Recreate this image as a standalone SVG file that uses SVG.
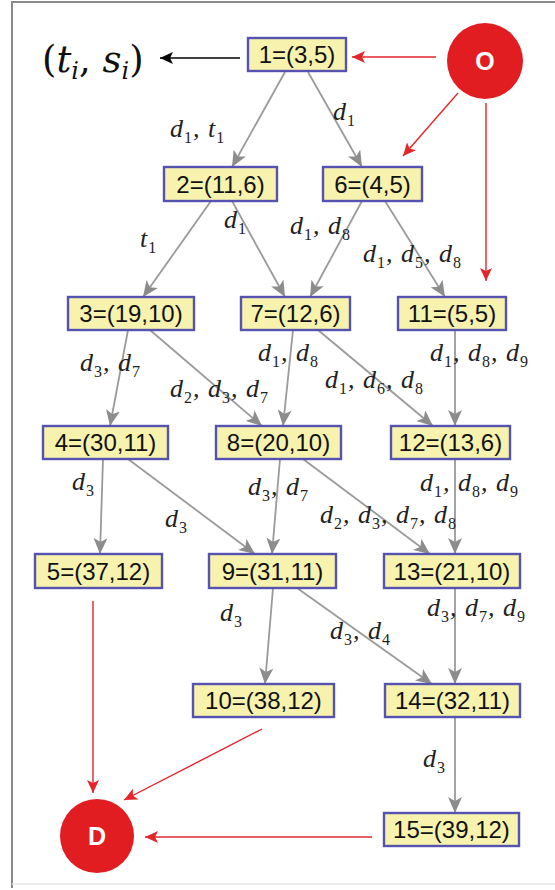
<svg xmlns="http://www.w3.org/2000/svg" width="555" height="890" viewBox="0 0 555 890">
<style>
.box{fill:#f7f3ae;stroke:#5552b0;stroke-width:2.4}
.nt{font-family:"Liberation Sans",Arial,sans-serif;font-size:24px;fill:#111;text-anchor:middle}
.e{stroke:#9a9a9a;stroke-width:1.8;fill:none}
.r{stroke:#e3262b;stroke-width:1.4;fill:none}
.m{font-family:"Liberation Serif","Times New Roman",serif;font-style:italic;font-size:26px;letter-spacing:1px;fill:#222}
.s{font-style:normal;font-size:16px}
.circ{fill:#e21d22}
.ct{font-family:"Liberation Sans",Arial,sans-serif;font-weight:bold;font-size:25px;fill:#fff;text-anchor:middle}
</style>
<defs>
<marker id="ga" markerWidth="17" markerHeight="14" refX="16" refY="7" orient="auto" markerUnits="userSpaceOnUse">
<path d="M0,0 L16,7 L0,14 L4,7 z" fill="#8c8c8c"/>
</marker>
<marker id="ra" markerWidth="14" markerHeight="12" refX="13" refY="6" orient="auto" markerUnits="userSpaceOnUse">
<path d="M0,0 L13,6 L0,12 L3,6 z" fill="#e3262b"/>
</marker>
<marker id="ka" markerWidth="14" markerHeight="12" refX="13" refY="6" orient="auto" markerUnits="userSpaceOnUse">
<path d="M0,0 L13,6 L0,12 L3,6 z" fill="#000"/>
</marker>
</defs>
<rect x="0" y="0" width="555" height="890" fill="#fff"/>
<path d="M12,888 L12,2 L555,2" fill="none" stroke="#8a8a8a" stroke-width="2"/>
<path d="M12,884 L555,884" fill="none" stroke="#e6e6e6" stroke-width="1.5"/>

<g id="connectors">
<line class="e" x1="285" y1="72" x2="232" y2="167" marker-end="url(#ga)"/>
<line class="e" x1="308" y1="72" x2="362" y2="167" marker-end="url(#ga)"/>
<line class="e" x1="211" y1="201" x2="143" y2="297" marker-end="url(#ga)"/>
<line class="e" x1="232" y1="201" x2="285" y2="297" marker-end="url(#ga)"/>
<line class="e" x1="362" y1="201" x2="310" y2="297" marker-end="url(#ga)"/>
<line class="e" x1="385" y1="201" x2="445" y2="297" marker-end="url(#ga)"/>
<line class="e" x1="128" y1="330" x2="110" y2="426" marker-end="url(#ga)"/>
<line class="e" x1="150" y1="330" x2="262" y2="426" marker-end="url(#ga)"/>
<line class="e" x1="293" y1="330" x2="283" y2="426" marker-end="url(#ga)"/>
<line class="e" x1="318" y1="330" x2="433" y2="426" marker-end="url(#ga)"/>
<line class="e" x1="455" y1="330" x2="455" y2="426" marker-end="url(#ga)"/>
<line class="e" x1="103" y1="459" x2="100" y2="554" marker-end="url(#ga)"/>
<line class="e" x1="128" y1="459" x2="255" y2="554" marker-end="url(#ga)"/>
<line class="e" x1="280" y1="459" x2="272" y2="554" marker-end="url(#ga)"/>
<line class="e" x1="303" y1="459" x2="430" y2="554" marker-end="url(#ga)"/>
<line class="e" x1="455" y1="459" x2="455" y2="554" marker-end="url(#ga)"/>
<line class="e" x1="273" y1="588" x2="265" y2="684" marker-end="url(#ga)"/>
<line class="e" x1="297" y1="588" x2="432" y2="684" marker-end="url(#ga)"/>
<line class="e" x1="455" y1="588" x2="455" y2="684" marker-end="url(#ga)"/>
<line class="e" x1="455" y1="717" x2="455" y2="813" marker-end="url(#ga)"/>
<line x1="240" y1="58" x2="160" y2="58" stroke="#000" stroke-width="1.6" marker-end="url(#ka)"/>
<line class="r" x1="436" y1="57" x2="352" y2="57" marker-end="url(#ra)"/>
<line class="r" x1="458" y1="93" x2="403" y2="156" marker-end="url(#ra)"/>
<line class="r" x1="486" y1="103" x2="486" y2="281" marker-end="url(#ra)"/>
<line class="r" x1="93" y1="601" x2="93" y2="793" marker-end="url(#ra)"/>
<line class="r" x1="262" y1="729" x2="124" y2="800" marker-end="url(#ra)"/>
<line class="r" x1="372" y1="837" x2="145" y2="837" marker-end="url(#ra)"/>
</g>

<g id="labels">
<text x="42" y="72" font-family="DejaVu Serif,serif" font-size="37" fill="#111">(<tspan font-style="italic">t</tspan><tspan font-style="italic" font-size="24" dy="7">i</tspan><tspan dy="-7">, </tspan><tspan font-style="italic">s</tspan><tspan font-style="italic" font-size="24" dy="7">i</tspan><tspan dy="-7">)</tspan></text>
<text class="m" x="170" y="137">d<tspan class="s" dy="6">1</tspan><tspan dy="-6">, t</tspan><tspan class="s" dy="6">1</tspan></text>
<text class="m" x="333" y="120">d<tspan class="s" dy="6">1</tspan></text>
<text class="m" x="140" y="247">t<tspan class="s" dy="6">1</tspan></text>
<text class="m" x="224" y="228">d<tspan class="s" dy="6">1</tspan></text>
<text class="m" x="290" y="234">d<tspan class="s" dy="6">1</tspan><tspan dy="-6">, d</tspan><tspan class="s" dy="6">8</tspan></text>
<text class="m" x="363" y="262">d<tspan class="s" dy="6">1</tspan><tspan dy="-6">, d</tspan><tspan class="s" dy="6">5</tspan><tspan dy="-6">, d</tspan><tspan class="s" dy="6">8</tspan></text>
<text class="m" x="80" y="371">d<tspan class="s" dy="6">3</tspan><tspan dy="-6">, d</tspan><tspan class="s" dy="6">7</tspan></text>
<text class="m" x="258" y="361">d<tspan class="s" dy="6">1</tspan><tspan dy="-6">, d</tspan><tspan class="s" dy="6">8</tspan></text>
<text class="m" x="170" y="397">d<tspan class="s" dy="6">2</tspan><tspan dy="-6">, d</tspan><tspan class="s" dy="6">3</tspan><tspan dy="-6">, d</tspan><tspan class="s" dy="6">7</tspan></text>
<text class="m" x="325" y="388">d<tspan class="s" dy="6">1</tspan><tspan dy="-6">, d</tspan><tspan class="s" dy="6">6</tspan><tspan dy="-6">, d</tspan><tspan class="s" dy="6">8</tspan></text>
<text class="m" x="430" y="361">d<tspan class="s" dy="6">1</tspan><tspan dy="-6">, d</tspan><tspan class="s" dy="6">8</tspan><tspan dy="-6">, d</tspan><tspan class="s" dy="6">9</tspan></text>
<text class="m" x="72" y="490">d<tspan class="s" dy="6">3</tspan></text>
<text class="m" x="248" y="495">d<tspan class="s" dy="6">3</tspan><tspan dy="-6">, d</tspan><tspan class="s" dy="6">7</tspan></text>
<text class="m" x="165" y="527">d<tspan class="s" dy="6">3</tspan></text>
<text class="m" x="420" y="491">d<tspan class="s" dy="6">1</tspan><tspan dy="-6">, d</tspan><tspan class="s" dy="6">8</tspan><tspan dy="-6">, d</tspan><tspan class="s" dy="6">9</tspan></text>
<text class="m" x="320" y="523">d<tspan class="s" dy="6">2</tspan><tspan dy="-6">, d</tspan><tspan class="s" dy="6">3</tspan><tspan dy="-6">, d</tspan><tspan class="s" dy="6">7</tspan><tspan dy="-6">, d</tspan><tspan class="s" dy="6">8</tspan></text>
<text class="m" x="220" y="621">d<tspan class="s" dy="6">3</tspan></text>
<text class="m" x="330" y="639">d<tspan class="s" dy="6">3</tspan><tspan dy="-6">, d</tspan><tspan class="s" dy="6">4</tspan></text>
<text class="m" x="427" y="616">d<tspan class="s" dy="6">3</tspan><tspan dy="-6">, d</tspan><tspan class="s" dy="6">7</tspan><tspan dy="-6">, d</tspan><tspan class="s" dy="6">9</tspan></text>
<text class="m" x="423" y="767">d<tspan class="s" dy="6">3</tspan></text>
</g>

<g id="nO"><circle class="circ" cx="485" cy="61" r="38"/><text class="ct" x="485" y="70">O</text></g>
<g id="nD"><circle class="circ" cx="97" cy="836" r="37"/><text class="ct" x="97" y="845">D</text></g>
<g id="n1"><rect class="box" x="248" y="38" width="98" height="33"/><text class="nt" x="297" y="63">1=(3,5)</text></g>
<g id="n2"><rect class="box" x="164" y="167" width="113" height="34"/><text class="nt" x="220.5" y="192.5">2=(11,6)</text></g>
<g id="n6"><rect class="box" x="323" y="167" width="99" height="34"/><text class="nt" x="372.5" y="192.5">6=(4,5)</text></g>
<g id="n3"><rect class="box" x="68" y="297" width="126" height="33"/><text class="nt" x="131" y="322">3=(19,10)</text></g>
<g id="n7"><rect class="box" x="241" y="297" width="109" height="33"/><text class="nt" x="295.5" y="322">7=(12,6)</text></g>
<g id="n11"><rect class="box" x="398" y="297" width="108" height="33"/><text class="nt" x="452" y="322">11=(5,5)</text></g>
<g id="n4"><rect class="box" x="43" y="426" width="125" height="33"/><text class="nt" x="105.5" y="451">4=(30,11)</text></g>
<g id="n8"><rect class="box" x="216" y="426" width="125" height="33"/><text class="nt" x="278.5" y="451">8=(20,10)</text></g>
<g id="n12"><rect class="box" x="391" y="426" width="119" height="33"/><text class="nt" x="450.5" y="451">12=(13,6)</text></g>
<g id="n5"><rect class="box" x="35" y="554" width="127" height="34"/><text class="nt" x="98.5" y="579.5">5=(37,12)</text></g>
<g id="n9"><rect class="box" x="209" y="554" width="127" height="34"/><text class="nt" x="272.5" y="579.5">9=(31,11)</text></g>
<g id="n13"><rect class="box" x="384" y="554" width="136" height="34"/><text class="nt" x="452" y="579.5">13=(21,10)</text></g>
<g id="n10"><rect class="box" x="193" y="684" width="141" height="33"/><text class="nt" x="263.5" y="709">10=(38,12)</text></g>
<g id="n14"><rect class="box" x="385" y="684" width="135" height="33"/><text class="nt" x="452.5" y="709">14=(32,11)</text></g>
<g id="n15"><rect class="box" x="384" y="813" width="135" height="33"/><text class="nt" x="451.5" y="838">15=(39,12)</text></g>
</svg>
